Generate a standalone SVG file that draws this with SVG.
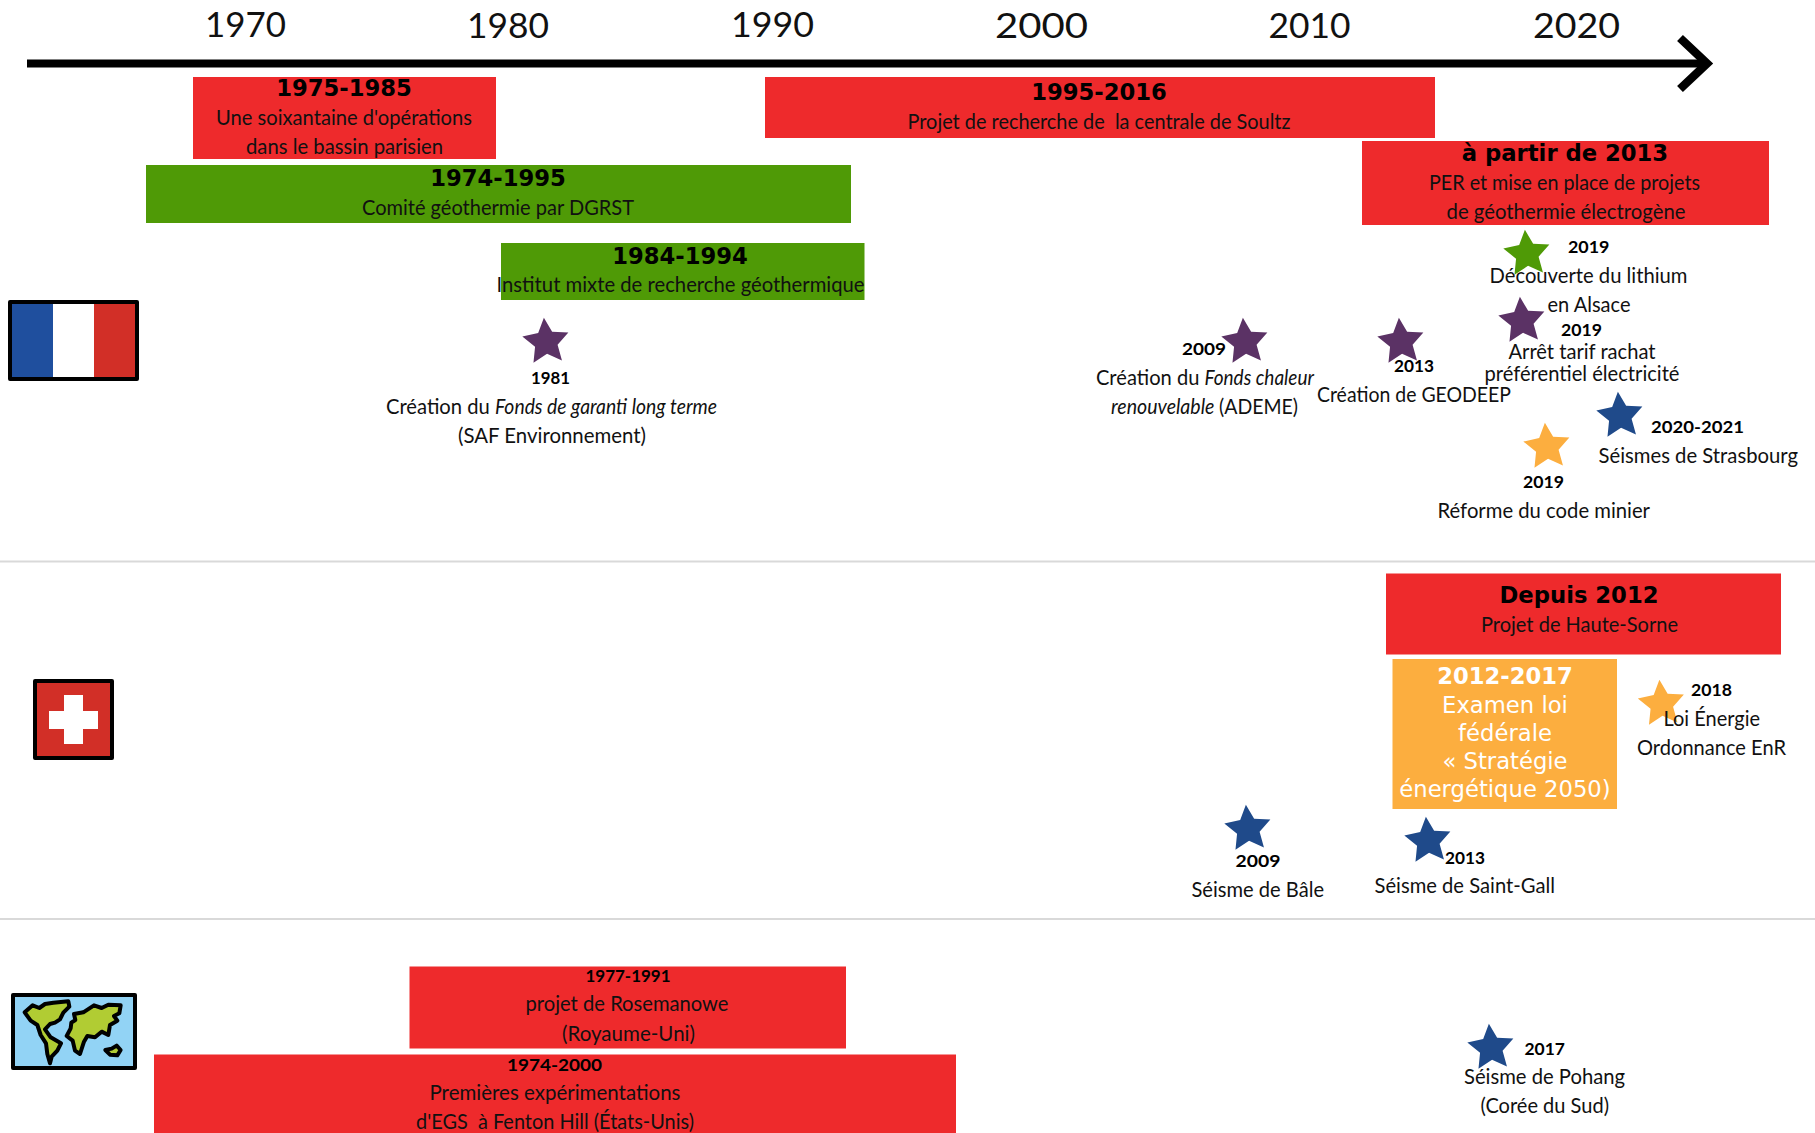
<svg xmlns="http://www.w3.org/2000/svg" width="1815" height="1133" viewBox="0 0 1815 1133">
<style>
text{font-family:"Lato","Noto Sans",sans-serif;fill:#111;white-space:pre}
.t{font-size:20.5px}
.i{font-style:italic}
.b{font-size:17px;font-weight:700;fill:#000}
.c{text-anchor:middle}
.h{font-family:"DejaVu Sans",sans-serif;font-weight:700;font-size:22.7px;text-anchor:middle;fill:#000}
.y{font-size:35px;fill:#111}
.o{font-family:"DejaVu Sans",sans-serif;font-size:22.7px;text-anchor:middle;fill:#fff}
.red{fill:#ee2a2c}.green{fill:#4f9a06}.orange{fill:#fcae3f}
.purple{fill:#5b3265}.blue{fill:#1f4a8a}
.sep{stroke:#d9d9d9;stroke-width:2;fill:none}
</style>
<defs>
<polygon id="star" points="0,-24.3 7,-9.6 23.1,-7.5 11.3,3.7 14.3,19.7 0,11.900 -14.3,19.7 -11.3,3.7 -23.1,-7.5 -7,-9.6"/>
</defs>
<rect width="1815" height="1133" fill="#fff"/>
<g id="connectors">
<path d="M27 63.500H1704" stroke="#000" stroke-width="8" fill="none"/>
<path d="M1680 38L1707 63.500L1680 89" stroke="#000" stroke-width="8.500" fill="none"/>
<path class="sep" d="M0 561.500H1815"/>
<path class="sep" d="M0 919H1815"/>
</g>
<g id="years">
<text class="y" x="205" y="37" textLength="81" lengthAdjust="spacingAndGlyphs">1970</text>
<text class="y" x="467" y="38" textLength="82" lengthAdjust="spacingAndGlyphs">1980</text>
<text class="y" x="731" y="37" textLength="83" lengthAdjust="spacingAndGlyphs">1990</text>
<text class="y" x="995" y="38" textLength="93" lengthAdjust="spacingAndGlyphs">2000</text>
<text class="y" x="1268.500" y="38" textLength="82" lengthAdjust="spacingAndGlyphs">2010</text>
<text class="y" x="1533" y="38" textLength="87" lengthAdjust="spacingAndGlyphs">2020</text>
</g>
<g id="flag-france">
<rect x="10" y="302" width="127" height="77" fill="#000" stroke="#000" stroke-width="4" stroke-linejoin="round"/>
<rect x="12" y="304" width="41" height="73" fill="#1f4f9e"/>
<rect x="53" y="304" width="41" height="73" fill="#fff"/>
<rect x="94" y="304" width="41" height="73" fill="#d22f27"/>
</g>
<g id="flag-suisse">
<rect x="35" y="681" width="77" height="77" fill="#d22f27" stroke="#000" stroke-width="4" stroke-linejoin="round"/>
<path d="M64 695H83V711H98V729H83V744H64V729H49V711H64Z" fill="#fff"/>
</g>
<g id="flag-monde">
<rect x="13" y="995" width="122" height="73" fill="#92d3f5" stroke="#000" stroke-width="4" stroke-linejoin="round"/>
<g transform="translate(0 980) scale(.3333)" fill="#b1cc33" stroke="#000" stroke-width="12" stroke-linejoin="round">
<path d="M74 97L98 76L118 84L135 72L160 68L205 64L208 80L190 98L180 118L165 128L150 132L135 148L152 172L183 190L172 212L155 230L150 250L142 222L138 190L122 165L112 135L92 122Z"/>
<path d="M222 102L250 97L282 76L305 84L325 74L362 76L358 100L342 108L352 122L330 135L325 165L305 155L285 172L262 168L252 185L240 222L225 212L218 182L200 168L212 145L214 128L226 120Z"/>
<path d="M316 210L335 206L350 197L362 210L352 226L330 224Z"/>
</g>
</g>
<g id="p-1975">
<rect class="red" x="193" y="77" width="303" height="82"/>
<text class="h" x="344" y="96">1975-1985</text>
<text class="t" x="216" y="125" textLength="256" lengthAdjust="spacingAndGlyphs">Une soixantaine d'opérations</text>
<text class="t" x="246" y="154" textLength="197" lengthAdjust="spacingAndGlyphs">dans le bassin parisien</text>
</g>
<g id="p-1995">
<rect class="red" x="765" y="77" width="670" height="61"/>
<text class="h" x="1099" y="99.500">1995-2016</text>
<text class="t" x="907.500" y="129" textLength="383" lengthAdjust="spacingAndGlyphs">Projet de recherche de  la centrale de Soultz</text>
</g>
<g id="p-2013">
<rect class="red" x="1362" y="141" width="407" height="84"/>
<text class="h" x="1565" y="161">à partir de 2013</text>
<text class="t" x="1429" y="190" textLength="271" lengthAdjust="spacingAndGlyphs">PER et mise en place de projets</text>
<text class="t" x="1446.500" y="219" textLength="239" lengthAdjust="spacingAndGlyphs">de géothermie électrogène</text>
</g>
<g id="p-1974">
<rect class="green" x="146" y="165" width="705" height="58"/>
<text class="h" x="498" y="186">1974-1995</text>
<text class="t" x="362" y="215" textLength="272" lengthAdjust="spacingAndGlyphs">Comité géothermie par DGRST</text>
</g>
<g id="p-1984">
<rect class="green" x="501" y="243" width="363.500" height="57"/>
<text class="h" x="680" y="263.500">1984-1994</text>
<text class="t" x="496.500" y="292" textLength="368" lengthAdjust="spacingAndGlyphs">Institut mixte de recherche géothermique</text>
</g>
<g id="e-1981">
<use href="#star" class="purple" transform="translate(546 342) rotate(-5)"/>
<text class="b" x="531" y="384" textLength="39" lengthAdjust="spacingAndGlyphs">1981</text>
<text class="t" y="414"><tspan x="386" textLength="109" lengthAdjust="spacingAndGlyphs">Création du </tspan><tspan class="i" x="495" textLength="222" lengthAdjust="spacingAndGlyphs">Fonds de garanti long terme</tspan></text>
<text class="t" x="458" y="443" textLength="188" lengthAdjust="spacingAndGlyphs">(SAF Environnement)</text>
</g>
<g id="e-2009-fr">
<use href="#star" class="purple" transform="translate(1245 342) rotate(-5)"/>
<text class="b" x="1182" y="355" textLength="44" lengthAdjust="spacingAndGlyphs">2009</text>
<text class="t" y="385"><tspan x="1096" textLength="108.500" lengthAdjust="spacingAndGlyphs">Création du </tspan><tspan class="i" x="1204.500" textLength="109.500" lengthAdjust="spacingAndGlyphs">Fonds chaleur</tspan></text>
<text class="t" y="414"><tspan class="i" x="1111" textLength="108" lengthAdjust="spacingAndGlyphs">renouvelable </tspan><tspan x="1219" textLength="79" lengthAdjust="spacingAndGlyphs">(ADEME)</tspan></text>
</g>
<g id="e-2013-fr">
<use href="#star" class="purple" transform="translate(1401 342) rotate(-5)"/>
<text class="b" x="1394" y="371.500" textLength="40" lengthAdjust="spacingAndGlyphs">2013</text>
<text class="t" x="1317" y="402" textLength="194" lengthAdjust="spacingAndGlyphs">Création de GEODEEP</text>
</g>
<g id="e-2019-lithium">
<use href="#star" class="green" transform="translate(1527 254) rotate(-5)"/>
<text class="b" x="1568" y="253" textLength="41.500" lengthAdjust="spacingAndGlyphs">2019</text>
<text class="t" x="1489.500" y="283" textLength="198" lengthAdjust="spacingAndGlyphs">Découverte du lithium</text>
<text class="t" x="1547.500" y="312" textLength="83" lengthAdjust="spacingAndGlyphs">en Alsace</text>
</g>
<g id="e-2019-tarif">
<use href="#star" class="purple" transform="translate(1522 321) rotate(-5)"/>
<text class="b" x="1561" y="336" textLength="41" lengthAdjust="spacingAndGlyphs">2019</text>
<text class="t" x="1508.500" y="359" textLength="147" lengthAdjust="spacingAndGlyphs">Arrêt tarif rachat</text>
<text class="t" x="1484.500" y="381" textLength="195" lengthAdjust="spacingAndGlyphs">préférentiel électricité</text>
</g>
<g id="e-2020">
<use href="#star" class="blue" transform="translate(1620 416) rotate(-5)"/>
<text class="b" x="1651" y="433" textLength="93" lengthAdjust="spacingAndGlyphs">2020-2021</text>
<text class="t" x="1598.500" y="463" textLength="199.500" lengthAdjust="spacingAndGlyphs">Séismes de Strasbourg</text>
</g>
<g id="e-2019-code">
<use href="#star" class="orange" transform="translate(1547 447) rotate(-5)"/>
<text class="b" x="1523" y="488" textLength="41" lengthAdjust="spacingAndGlyphs">2019</text>
<text class="t" x="1437.500" y="518" textLength="212.500" lengthAdjust="spacingAndGlyphs">Réforme du code minier</text>
</g>
<g id="p-2012">
<rect class="red" x="1386" y="573.500" width="395" height="81"/>
<text class="h" x="1579" y="602.500">Depuis 2012</text>
<text class="t" x="1481" y="632" textLength="197" lengthAdjust="spacingAndGlyphs">Projet de Haute-Sorne</text>
</g>
<g id="p-2012-2017">
<rect class="orange" x="1392.500" y="659" width="224.500" height="150"/>
<text class="h" x="1505" y="684" style="fill:#fff">2012-2017</text>
<text class="o" x="1505" y="713">Examen loi</text>
<text class="o" x="1505" y="741">fédérale</text>
<text class="o" x="1505" y="769">« Stratégie</text>
<text class="o" x="1505" y="797">énergétique 2050)</text>
</g>
<g id="e-2018">
<use href="#star" class="orange" transform="translate(1661.500 704) rotate(-5)"/>
<text class="b" x="1691" y="696" textLength="41" lengthAdjust="spacingAndGlyphs">2018</text>
<text class="t" x="1663.500" y="726" textLength="96.500" lengthAdjust="spacingAndGlyphs">Loi Énergie</text>
<text class="t" x="1637" y="755" textLength="149" lengthAdjust="spacingAndGlyphs">Ordonnance EnR</text>
</g>
<g id="e-2009-ch">
<use href="#star" class="blue" transform="translate(1248 829) rotate(-5)"/>
<text class="b" x="1235.500" y="867" textLength="45" lengthAdjust="spacingAndGlyphs">2009</text>
<text class="t" x="1191.500" y="897" textLength="132.500" lengthAdjust="spacingAndGlyphs">Séisme de Bâle</text>
</g>
<g id="e-2013-ch">
<use href="#star" class="blue" transform="translate(1428 841) rotate(-5)"/>
<text class="b" x="1445" y="863.500" textLength="40" lengthAdjust="spacingAndGlyphs">2013</text>
<text class="t" x="1374.500" y="893" textLength="180.500" lengthAdjust="spacingAndGlyphs">Séisme de Saint-Gall</text>
</g>
<g id="p-1977">
<rect class="red" x="409.500" y="966.500" width="436.500" height="82"/>
<text class="b" x="585.500" y="982" textLength="85" lengthAdjust="spacingAndGlyphs">1977-1991</text>
<text class="t" x="525.500" y="1011" textLength="203" lengthAdjust="spacingAndGlyphs">projet de Rosemanowe</text>
<text class="t" x="562" y="1041" textLength="133" lengthAdjust="spacingAndGlyphs">(Royaume-Uni)</text>
</g>
<g id="p-1974-2000">
<rect class="red" x="154" y="1054.500" width="802" height="79"/>
<text class="b" x="507" y="1071" textLength="95" lengthAdjust="spacingAndGlyphs">1974-2000</text>
<text class="t" x="429.500" y="1100" textLength="251" lengthAdjust="spacingAndGlyphs">Premières expérimentations</text>
<text class="t" x="416" y="1129" textLength="278" lengthAdjust="spacingAndGlyphs">d'EGS  à Fenton Hill (États-Unis)</text>
</g>
<g id="e-2017">
<use href="#star" class="blue" transform="translate(1491 1048) rotate(-5)"/>
<text class="b" x="1524.500" y="1054.500" textLength="40.500" lengthAdjust="spacingAndGlyphs">2017</text>
<text class="t" x="1464" y="1084" textLength="161" lengthAdjust="spacingAndGlyphs">Séisme de Pohang</text>
<text class="t" x="1480.500" y="1113" textLength="128.500" lengthAdjust="spacingAndGlyphs">(Corée du Sud)</text>
</g>
</svg>
